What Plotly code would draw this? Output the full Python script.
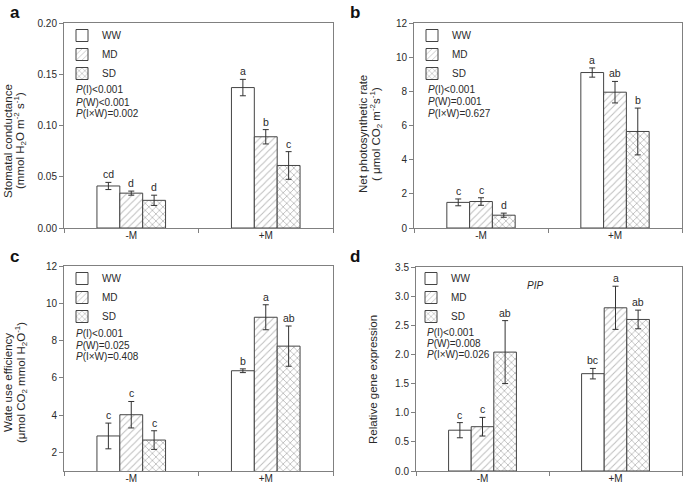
import plotly.graph_objects as go

categories = ["-M", "+M"]
treatments = ["WW", "MD", "SD"]

# Panel a: stomatal conductance
a_vals = {"WW": [0.041, 0.137], "MD": [0.034, 0.089], "SD": [0.027, 0.061]}
a_err = {"WW": [0.0035, 0.008], "MD": [0.002, 0.007], "SD": [0.005, 0.0135]}
a_let = {"WW": ["cd", "a"], "MD": ["d", "b"], "SD": ["d", "c"]}

# Panel b: net photosynthetic rate
b_vals = {"WW": [1.5, 9.1], "MD": [1.55, 7.95], "SD": [0.75, 5.65]}
b_err = {"WW": [0.2, 0.27], "MD": [0.22, 0.63], "SD": [0.12, 1.37]}
b_let = {"WW": ["c", "a"], "MD": ["c", "ab"], "SD": ["d", "b"]}

# Panel c: water use efficiency
c_vals = {"WW": [2.88, 6.38], "MD": [4.02, 9.25], "SD": [2.66, 7.7]}
c_err = {"WW": [0.69, 0.1], "MD": [0.71, 0.67], "SD": [0.5, 1.08]}
c_let = {"WW": ["c", "b"], "MD": ["c", "a"], "SD": ["c", "ab"]}

# Panel d: relative gene expression (PIP)
d_vals = {"WW": [0.70, 1.67], "MD": [0.76, 2.80], "SD": [2.04, 2.60]}
d_err = {"WW": [0.13, 0.09], "MD": [0.16, 0.37], "SD": [0.54, 0.16]}
d_let = {"WW": ["c", "bc"], "MD": ["c", "a"], "SD": ["ab", "ab"]}

p_texts = {
    "a": ["<i>P</i>(I)&lt;0.001", "<i>P</i>(W)&lt;0.001", "<i>P</i>(I\u00d7W)=0.002"],
    "b": ["<i>P</i>(I)&lt;0.001", "<i>P</i>(W)=0.001", "<i>P</i>(I\u00d7W)=0.627"],
    "c": ["<i>P</i>(I)&lt;0.001", "<i>P</i>(W)=0.025", "<i>P</i>(I\u00d7W)=0.408"],
    "d": ["<i>P</i>(I)&lt;0.001", "<i>P</i>(W)=0.008", "<i>P</i>(I\u00d7W)=0.026"],
}

ytitles = {
    "a": ["Stomatal conductance", "(mmol H<sub>2</sub>O m<sup>-2</sup> s<sup>-1</sup>)"],
    "b": ["Net photosynthetic rate", "( \u03bcmol CO<sub>2</sub> m<sup>-2</sup>s<sup>-1</sup>)"],
    "c": ["Wate use efficiency", "(\u03bcmol CO<sub>2</sub> mmol H<sub>2</sub>O<sup>-1</sup>)"],
    "d": ["Relative gene expression"],
}

FONT = "Liberation Sans, Arial, sans-serif"
TXT = "#2a2a2a"
EDGE = "#444444"
BARGAP = 0.49

styles = {
    "WW": dict(color="white", pattern=None),
    "MD": dict(color="white", pattern=dict(shape="/", fgcolor="#7a7a7a", size=5, solidity=0.2)),
    "SD": dict(color="white", pattern=dict(shape="x", fgcolor="#555555", size=5, solidity=0.25)),
}

panels = [
    ("a", a_vals, a_err, a_let, "x", "y", "legend"),
    ("b", b_vals, b_err, b_let, "x2", "y2", "legend2"),
    ("c", c_vals, c_err, c_let, "x3", "y3", "legend3"),
    ("d", d_vals, d_err, d_let, "x4", "y4", "legend4"),
]

fig = go.Figure()
annotations = []
bw = (1 - BARGAP) / 3
for key, vals, errs, lets, xa, ya, lg in panels:
    for i, t in enumerate(treatments):
        st = styles[t]
        marker = dict(color=st["color"], line=dict(color=EDGE, width=1))
        if st["pattern"]:
            marker["pattern"] = st["pattern"]
        fig.add_trace(go.Bar(
            x=categories, y=vals[t], name=t, xaxis=xa, yaxis=ya, legend=lg,
            marker=marker,
            error_y=dict(type="data", array=errs[t], color="#333", thickness=1, width=3),
        ))
        for j, c in enumerate(categories):
            annotations.append(dict(
                x=j + (i - 1) * bw, y=vals[t][j] + errs[t][j], xref=xa, yref=ya,
                text=lets[t][j], showarrow=False, yanchor="bottom", yshift=0,
                font=dict(family=FONT, size=10.5, color=TXT)))

# domains (paper fractions)
H = 486.0
W = 685.0
dom = {
    "a": ([64 / W, 333 / W], [1 - 228 / H, 1 - 23 / H]),
    "b": ([414 / W, 682 / W], [1 - 228 / H, 1 - 23 / H]),
    "c": ([64 / W, 333 / W], [1 - 471 / H, 1 - 266 / H]),
    "d": ([416 / W, 682 / W], [1 - 471 / H, 1 - 267 / H]),
}
yranges = {"a": [0, 0.2], "b": [0, 12], "c": [1, 12], "d": [0, 3.5]}
ydticks = {"a": 0.05, "b": 2, "c": 2, "d": 0.5}
ytickfmt = {"a": ".2f", "b": "", "c": "", "d": ".1f"}

axis_common = dict(showline=True, linecolor="#808080", linewidth=1, mirror=True,
                   ticks="outside", ticklen=4, tickcolor="#808080", showgrid=False,
                   zeroline=False, automargin=False,
                   tickfont=dict(family=FONT, size=10, color=TXT))

layout = dict(
    width=685, height=486, margin=dict(l=0, r=0, t=0, b=0, autoexpand=False),
    paper_bgcolor="white", plot_bgcolor="white",
    barmode="group", bargap=BARGAP, bargroupgap=0,
    font=dict(family=FONT, size=11, color=TXT),
)
names = {"a": ("xaxis", "yaxis", "x", "y"), "b": ("xaxis2", "yaxis2", "x2", "y2"),
         "c": ("xaxis3", "yaxis3", "x3", "y3"), "d": ("xaxis4", "yaxis4", "x4", "y4")}
for k, (xn, yn, xr, yr) in names.items():
    xd, yd = dom[k]
    layout[xn] = dict(axis_common, domain=xd, anchor=yr, tickson="boundaries",
                      type="category", range=[-0.5, 1.5], ticklabelstandoff=-2)
    layout[yn] = dict(axis_common, domain=yd, anchor=xr, range=yranges[k],
                      dtick=ydticks[k], tick0=0, tickformat=ytickfmt[k])

# y-axis titles (one annotation per line)
ytitle_pos = {"a": ([8, 20], 141), "b": ([363, 376], 134),
              "c": ([8, 21], 383), "d": ([373], 380)}
for k, (xs, yc) in ytitle_pos.items():
    for txt, xx in zip(ytitles[k], xs):
        annotations.append(dict(x=xx / W, y=1 - yc / H, xref="paper", yref="paper",
                                text=txt, textangle=-90, showarrow=False,
                                xanchor="center", yanchor="middle",
                                font=dict(family=FONT, size=11.5, color=TXT)))

# legends
leg_pos = {"legend": (62 / W, 1 - 21 / H), "legend2": (412 / W, 1 - 21 / H),
           "legend3": (62 / W, 1 - 264 / H), "legend4": (411 / W, 1 - 264 / H)}
for ln, (lx, ly) in leg_pos.items():
    layout[ln] = dict(x=lx, y=ly, xanchor="left", yanchor="top", bgcolor="rgba(0,0,0,0)",
                      font=dict(family=FONT, size=10, color=TXT), tracegroupgap=0,
                      itemwidth=30)

# P-value texts
p_pos = {"a": (74, [90, 102, 113]), "b": (426, [89, 101, 113]),
         "c": (74, [333, 345, 356]), "d": (425, [332, 343, 354])}
for k, (px, pys) in p_pos.items():
    for txt, py in zip(p_texts[k], pys):
        annotations.append(dict(x=px / W, y=1 - py / H, xref="paper", yref="paper",
                                text=txt, showarrow=False, xanchor="left", yanchor="middle",
                                font=dict(family=FONT, size=10, color=TXT)))

# panel letters
for k, (px, py) in {"a": (8, 12), "b": (348, 12), "c": (8, 256), "d": (348, 256)}.items():
    annotations.append(dict(x=px / W, y=1 - py / H, xref="paper", yref="paper",
                            text="<b>%s</b>" % k, showarrow=False, xanchor="left",
                            yanchor="middle", font=dict(family=FONT, size=17, color="#111")))

annotations.append(dict(x=545 / W, y=1 - 285 / H, xref="paper", yref="paper",
                        text="<i>PIP</i>", showarrow=False, font=dict(family=FONT, size=10, color=TXT)))

layout["annotations"] = annotations
fig.update_layout(**layout)
fig.write_html("out.html", config={"displayModeBar": False},
               post_script="document.body.style.margin='0';")
